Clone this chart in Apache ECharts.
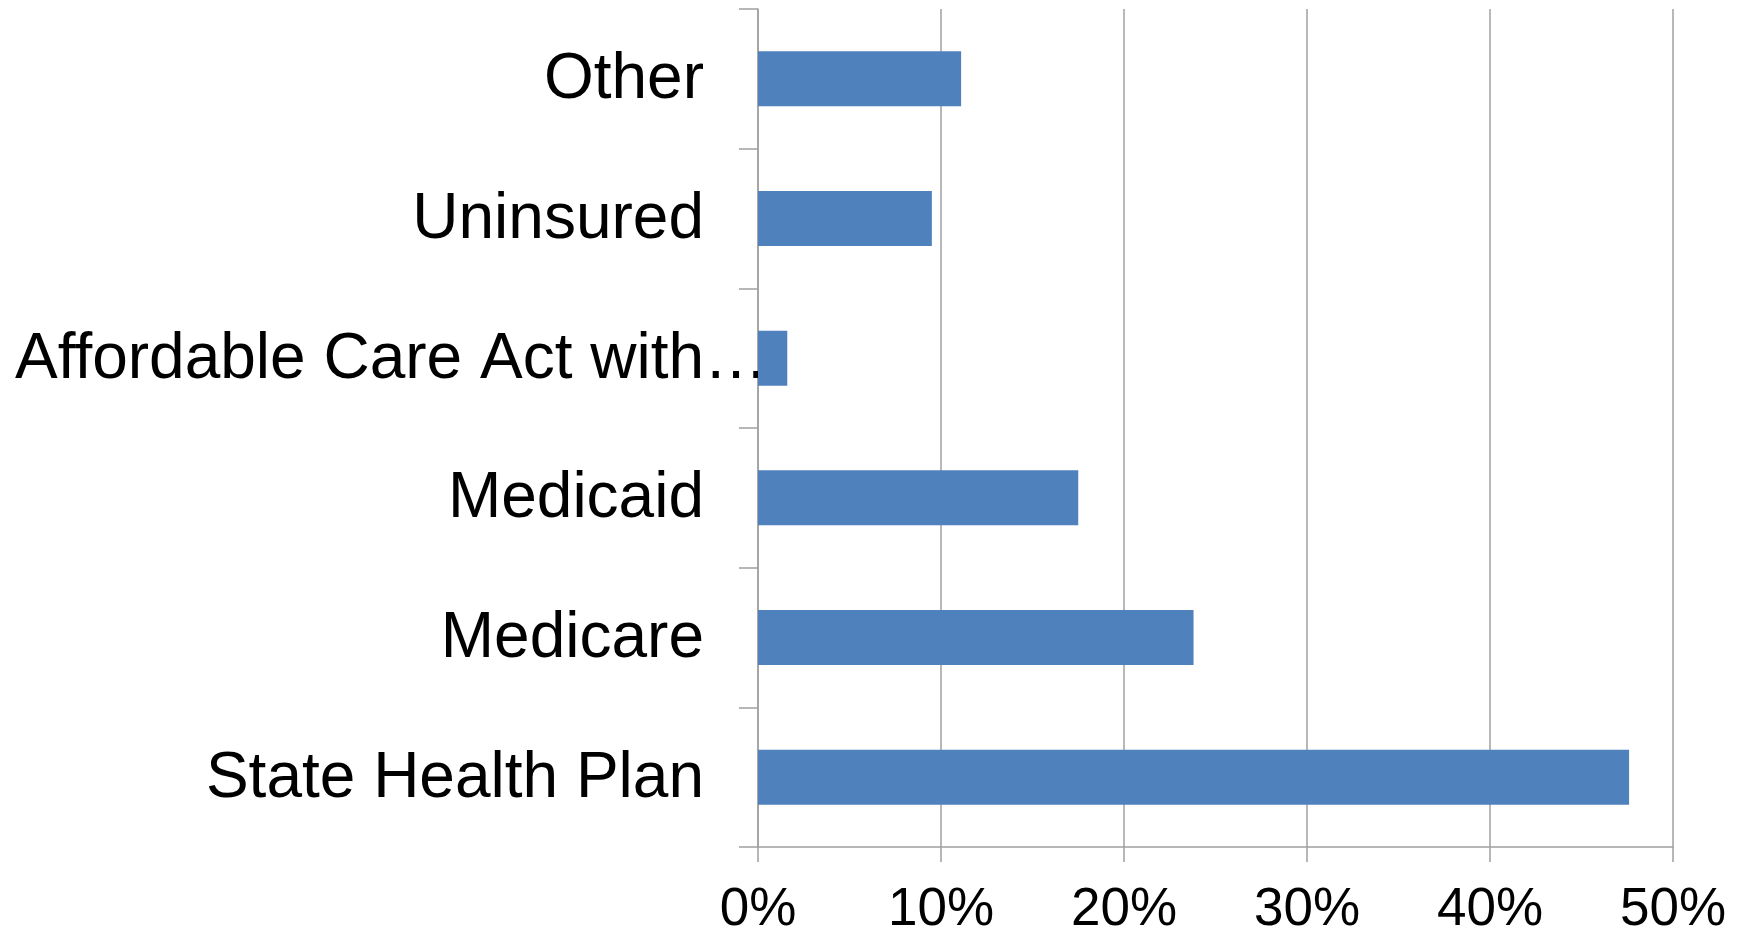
<!DOCTYPE html>
<html>
<head>
<meta charset="utf-8">
<title>Coverage type</title>
<script src="https://cdn.jsdelivr.net/npm/echarts@6/dist/echarts.min.js"></script>
<style>
  html, body { margin: 0; padding: 0; background: #ffffff; }
  #chart { width: 1746px; height: 932px; }
</style>
</head>
<body>
<div id="chart"></div>
<script>
// Coverage categories, listed bottom to top
const categories = [
  'State Health Plan',
  'Medicare',
  'Medicaid',
  'Affordable Care Act with…',
  'Uninsured',
  'Other'
];
// Share of respondents, in percent
const shares = [47.6, 23.8, 17.5, 1.6, 9.5, 11.1];
// Value axis ticks (percent)
const xTicks = [0, 10, 20, 30, 40, 50];
// Label that is truncated and runs up to the axis
const truncatedLabel = 'Affordable Care Act with…';

const chart = echarts.init(document.getElementById('chart'), null, { renderer: 'canvas' });

const gray = '#A0A0A0';
const font = '"Liberation Sans", Arial, sans-serif';

chart.setOption({
  animation: false,
  backgroundColor: '#ffffff',
  grid: {
    left: 758, right: 73, top: 9, bottom: 85,
    containLabel: false,
    outerBoundsMode: 'none'
  },
  xAxis: {
    type: 'value',
    min: xTicks[0],
    max: xTicks[xTicks.length - 1],
    interval: xTicks[1] - xTicks[0],
    axisLine: { show: true, lineStyle: { color: gray, width: 1.5 } },
    axisTick: { show: true, length: 15, lineStyle: { color: gray, width: 1.5 } },
    splitLine: { show: true, lineStyle: { color: gray, width: 1.5 } },
    axisLabel: {
      color: '#000000',
      fontFamily: font,
      fontSize: 53,
      margin: 37,
      formatter: v => v + '%'
    }
  },
  yAxis: {
    type: 'category',
    data: categories,
    axisLine: { show: true, lineStyle: { color: gray, width: 1.5 } },
    axisTick: { show: true, length: 19, lineStyle: { color: gray, width: 1.5 } },
    splitLine: { show: false },
    axisLabel: {
      margin: -10,
      interval: 0,
      formatter: v => (v === truncatedLabel ? '{t|' + v + '}' : '{n|' + v + '}'),
      rich: {
        n: { color: '#000000', fontFamily: font, fontSize: 64, padding: [4, 64, 0, 0] },
        t: { color: '#000000', fontFamily: font, fontSize: 64, padding: [4, 0, 0, 0] }
      }
    }
  },
  series: [{
    type: 'bar',
    data: shares,
    barWidth: 55,
    itemStyle: { color: '#4F81BD' }
  }]
});
</script>
</body>
</html>
